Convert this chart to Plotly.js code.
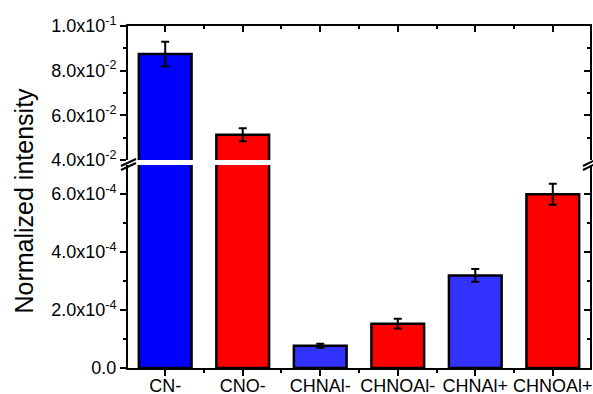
<!DOCTYPE html>
<html>
<head>
<meta charset="utf-8">
<script src="https://cdn.plot.ly/plotly-3.0.1.min.js"></script>
<style>html,body{margin:0;padding:0;background:#fff;}#chart{width:593px;height:394px;}</style>
</head>
<body>
<div id="chart"></div>
<script>
// ---- data ----
const categories = ['CN-', 'CNO-', 'CHNAl-', 'CHNOAl-', 'CHNAl+', 'CHNOAl+'];
const values = [0.0875, 0.0513, 7.7e-5, 1.53e-4, 3.19e-4, 5.99e-4];
const errors = [0.0055, 0.0029, 0.7e-5, 0.17e-4, 0.22e-4, 0.36e-4];
const barColors = ['#0000ff', '#ff0000', '#3333ff', '#ff0000', '#3333ff', '#ff0000'];
const lowerTickVals = [0, 2e-4, 4e-4, 6e-4];
const lowerTickText = ['0.0', '2.0x10<sup>-4</sup>', '4.0x10<sup>-4</sup>', '6.0x10<sup>-4</sup>'];
const lowerMinor = [1e-4, 3e-4, 5e-4];
const upperTickVals = [0.04, 0.06, 0.08, 0.1];
const upperTickText = ['4.0x10<sup>-2</sup>', '6.0x10<sup>-2</sup>', '8.0x10<sup>-2</sup>', '1.0x10<sup>-1</sup>'];
const upperMinor = [0.05, 0.07, 0.09];
const yTitle = 'Normalized intensity';

// ---- geometry ----
const W = 593, H = 394;
const L = 128, R = 590, T = 26, B = 368;
const pw = R - L, ph = B - T;
const px = v => (v - L) / pw;
const py = v => (B - v) / ph;
const lowerTopPx = 165, upperBotPx = 160;

const idx = categories.map((c, i) => i);
const halfTicks = idx.slice(0, -1).map(i => i + 0.5);
const FONT = 'Liberation Sans, Arial, sans-serif';

function barTrace(yaxis) {
  return {
    type: 'bar', x: idx, y: values, yaxis: yaxis, xaxis: 'x',
    width: 0.68,
    marker: {color: barColors, line: {color: '#000', width: 2.5}},
    error_y: {type: 'data', array: errors, visible: true, color: '#000', thickness: 2, width: 4},
    hoverinfo: 'skip', showlegend: false
  };
}

const traces = [
  barTrace('y'),
  barTrace('y2'),
  {type: 'scatter', x: [], y: [], xaxis: 'x2', yaxis: 'y2', showlegend: false, hoverinfo: 'skip'},
  {type: 'scatter', x: [], y: [], xaxis: 'x', yaxis: 'y3', showlegend: false, hoverinfo: 'skip'},
  {type: 'scatter', x: [], y: [], xaxis: 'x', yaxis: 'y4', showlegend: false, hoverinfo: 'skip'}
];

const xRange = [-0.48, 5.48];
const lowerRange = [0, (B - lowerTopPx) / 58 * 2e-4];
const upperRange = [0.04, 0.1];
const lowerDomain = [0, py(lowerTopPx)];
const upperDomain = [py(upperBotPx), 1];

const common = {showgrid: false, zeroline: false, showline: true, linecolor: '#000', linewidth: 2,
  tickcolor: '#000', tickwidth: 2, fixedrange: true};

const layout = {
  width: W, height: H,
  margin: {l: L, r: W - R, t: T, b: H - B, pad: 0},
  paper_bgcolor: '#fff', plot_bgcolor: 'rgba(0,0,0,0)',
  font: {family: FONT, color: '#000', size: 18},
  xaxis: Object.assign({}, common, {
    range: xRange, anchor: 'y', tickmode: 'array', tickvals: idx, ticktext: categories,
    ticks: 'outside', ticklen: 6, tickfont: {size: 18, family: FONT}, ticklabelstandoff: -6,
    minor: {tickvals: halfTicks, ticks: 'outside', ticklen: 3, tickwidth: 2, tickcolor: '#000'}
  }),
  xaxis2: Object.assign({}, common, {
    range: xRange, anchor: 'y2', overlaying: 'x', side: 'top', tickmode: 'array', tickvals: idx,
    showticklabels: false, ticks: 'inside', ticklen: 6,
    minor: {tickvals: halfTicks, ticks: 'inside', ticklen: 3, tickwidth: 2, tickcolor: '#000'}
  }),
  yaxis: Object.assign({}, common, {
    range: lowerRange, domain: lowerDomain, anchor: 'x', tickmode: 'array',
    tickvals: lowerTickVals, ticktext: lowerTickText, ticks: 'outside', ticklen: 6,
    tickfont: {size: 18, family: FONT},
    minor: {tickvals: lowerMinor, ticks: 'outside', ticklen: 3, tickwidth: 2, tickcolor: '#000'}
  }),
  yaxis2: Object.assign({}, common, {
    range: upperRange, domain: upperDomain, anchor: 'x', tickmode: 'array',
    tickvals: upperTickVals, ticktext: upperTickText, ticks: 'outside', ticklen: 6,
    tickfont: {size: 18, family: FONT},
    minor: {tickvals: upperMinor, ticks: 'outside', ticklen: 3, tickwidth: 2, tickcolor: '#000'}
  }),
  yaxis3: Object.assign({}, common, {
    range: lowerRange, domain: lowerDomain, anchor: 'x', overlaying: 'y', side: 'right',
    tickmode: 'array', tickvals: lowerTickVals, showticklabels: false, ticks: 'inside', ticklen: 6,
    minor: {tickvals: lowerMinor, ticks: 'inside', ticklen: 3, tickwidth: 2, tickcolor: '#000'}
  }),
  yaxis4: Object.assign({}, common, {
    range: upperRange, domain: upperDomain, anchor: 'x', overlaying: 'y2', side: 'right',
    tickmode: 'array', tickvals: upperTickVals, showticklabels: false, ticks: 'inside', ticklen: 6,
    minor: {tickvals: upperMinor, ticks: 'inside', ticklen: 3, tickwidth: 2, tickcolor: '#000'}
  }),
  annotations: [{
    text: yTitle, xref: 'paper', yref: 'paper', x: px(23), y: py(200.5),
    xanchor: 'center', yanchor: 'middle', textangle: -90, showarrow: false,
    font: {size: 25, family: FONT, color: '#000'}
  }],
  shapes: [
    // axis break marks (left and right)
    {type: 'line', xref: 'paper', yref: 'paper', x0: px(121), y0: py(166), x1: px(136), y1: py(159), line: {color: '#000', width: 2}},
    {type: 'line', xref: 'paper', yref: 'paper', x0: px(121), y0: py(170), x1: px(136), y1: py(163), line: {color: '#000', width: 2}},
    {type: 'line', xref: 'paper', yref: 'paper', x0: px(583), y0: py(166), x1: px(597), y1: py(159), line: {color: '#000', width: 2}},
    {type: 'line', xref: 'paper', yref: 'paper', x0: px(583), y0: py(170), x1: px(597), y1: py(163), line: {color: '#000', width: 2}}
  ]
};

Plotly.newPlot('chart', traces, layout, {staticPlot: true, displayModeBar: false});
</script>
</body>
</html>
